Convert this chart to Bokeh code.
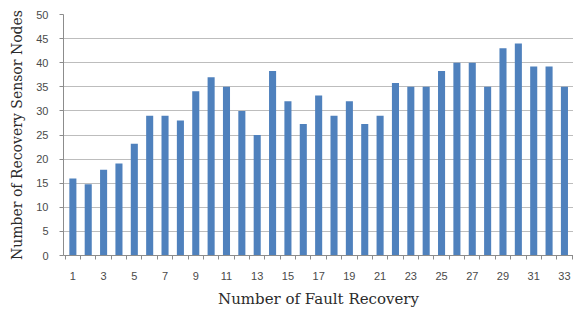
from bokeh.plotting import figure
from bokeh.models import Range1d, FixedTicker
from bokeh.embed import file_html
from bokeh.resources import INLINE

fault_recovery = list(range(1, 34))
sensor_nodes = [16, 14.8, 17.8, 19.1, 23.2, 29, 29, 28, 34.1, 37, 35, 30, 25, 38.3, 32,
                27.3, 33.2, 29, 32, 27.3, 29, 35.8, 35, 35, 38.3, 40, 40, 35, 43, 44,
                39.2, 39.2, 35]
x_tick_labels = list(range(1, 34, 2))
y_ticks = list(range(0, 51, 5))

p = figure(width=573, height=310, output_backend="svg", toolbar_location=None,
           x_range=Range1d(0.39, 33.59), y_range=Range1d(0, 50))
p.min_border_left = 63
p.min_border_right = 0
p.min_border_top = 14
p.min_border_bottom = 53
p.outline_line_color = None
p.background_fill_color = "white"
p.border_fill_color = "white"

p.vbar(x=fault_recovery, top=sensor_nodes, width=0.46, fill_color="#4f81bd",
       line_color=None)

p.xgrid.grid_line_color = None
p.ygrid.grid_line_color = "#bdbdbd"
p.ygrid.grid_line_width = 1.2

p.xaxis.ticker = FixedTicker(ticks=x_tick_labels,
                             minor_ticks=[i + 0.5 for i in range(0, 34)])
p.yaxis.ticker = FixedTicker(ticks=y_ticks)

for ax in (p.xaxis[0], p.yaxis[0]):
    ax.axis_line_color = "#8c8c8c"
    ax.major_tick_line_color = "#8c8c8c"
    ax.minor_tick_line_color = "#8c8c8c"
    ax.major_label_text_font = "Liberation Sans"
    ax.major_label_text_font_size = "11px"
    ax.major_label_text_color = "#4a4a4a"
    ax.axis_label_text_font = "DejaVu Serif"
    ax.axis_label_text_font_style = "normal"
    ax.axis_label_text_color = "#2b2b2b"

p.xaxis.axis_label_text_font_size = "15px"
p.yaxis.axis_label_text_font_size = "14px"

p.xaxis.major_tick_out = 0
p.xaxis.major_tick_in = 0
p.xaxis.minor_tick_out = 4
p.xaxis.minor_tick_in = 0
p.xaxis.major_label_standoff = 12
p.xaxis.axis_label = "Number of Fault Recovery"
p.xaxis.axis_label_standoff = 7

p.yaxis.major_tick_out = 4
p.yaxis.major_tick_in = 0
p.yaxis.minor_tick_out = 0
p.yaxis.minor_tick_in = 0
p.yaxis.major_label_standoff = 11
p.yaxis.axis_label = "Number of Recovery Sensor Nodes"
p.yaxis.axis_label_standoff = 8

open("out.html", "w").write(file_html(p, INLINE))
